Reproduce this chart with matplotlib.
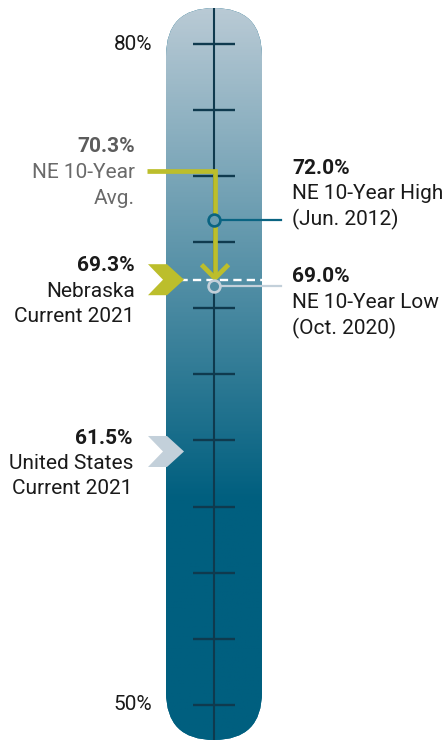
import numpy as np
import matplotlib.pyplot as plt
from matplotlib.patches import FancyBboxPatch, Polygon
from matplotlib.colors import LinearSegmentedColormap

plt.rcParams["font.family"] = ["Roboto", "DejaVu Sans"]

# values in percent
scale_ticks = [50, 53, 56, 59, 62, 65, 68, 71, 74, 77, 80]
scale_labels = ["50%", "80%"]
ne_current = 69.3
us_current = 61.5
ne_avg = 70.3
ne_high = 72.0
ne_low = 69.0

ne_current_text = ["Nebraska", "Current 2021"]
us_current_text = ["United States", "Current 2021"]
ne_avg_text = ["NE 10-Year", "Avg."]
ne_high_text = ["NE 10-Year High", "(Jun. 2012)"]
ne_low_text = ["NE 10-Year Low", "(Oct. 2020)"]

NAVY = "#0f3a4e"
TEAL_DARK = "#005f7f"
TEAL_TOP = "#b9cad5"
OLIVE = "#bcbe2c"
PALE = "#c3d0da"
HIGH_C = "#0a6482"
INK = "#1a1a1a"
GREY = "#6a6a6a"
FS = 15

W, H = 446, 740
Y_LO, Y_HI = 48.4, 82.0
ppu = H / (Y_HI - Y_LO)  # pixels per percentage point


def py(px):
    # figure pixel row -> value axis (layout only)
    return Y_HI - px / ppu


fig = plt.figure(figsize=(W / 100, H / 100), dpi=100)
ax = fig.add_axes([0, 0, 1, 1])
ax.set_xlim(0, W)
ax.set_ylim(Y_LO, Y_HI)
ax.axis("off")

# thermometer tube
cx = 214
tube_left, tube_w = 166, 96
tube_bot, tube_top = Y_LO, py(8)
tube = FancyBboxPatch((tube_left, tube_bot), tube_w, tube_top - tube_bot,
                      boxstyle="round,pad=0,rounding_size=48",
                      mutation_aspect=1 / ppu, facecolor=TEAL_DARK,
                      edgecolor="none", zorder=1)
ax.add_patch(tube)

tube_cmap = LinearSegmentedColormap.from_list("tube", [TEAL_DARK, TEAL_TOP])
grad_lo = py(500)


def tube_t(v):
    return np.clip((v - grad_lo) / (tube_top - grad_lo), 0, 1)


ys = np.linspace(tube_bot, tube_top, 500)
im = ax.imshow(tube_t(ys)[:, None], extent=[tube_left, tube_left + tube_w, tube_bot, tube_top],
               origin="lower", aspect="auto", cmap=tube_cmap, vmin=0, vmax=1, zorder=2)
im.set_clip_path(tube)

ax.plot([cx, cx], [tube_bot, tube_top], color=NAVY, lw=1.5, zorder=3, solid_capstyle="butt")
ax.hlines(scale_ticks, 193, 235, color=NAVY, lw=1.7, zorder=3)

for v, lab in zip([scale_ticks[0], scale_ticks[-1]], scale_labels):
    ax.text(152, v, lab, ha="right", va="center", fontsize=FS, color=INK)

# NE current: dashed line across the tube
ax.plot([tube_left, tube_left + tube_w], [ne_current, ne_current], color="white",
        lw=1.7, ls=(0, (3.5, 2.2)), zorder=4)


def chevron(v, color):
    hh = 15.5 / ppu
    pts = [(148, v + hh), (167, v + hh), (184, v), (167, v - hh), (148, v - hh), (163, v)]
    ax.add_patch(Polygon(pts, closed=True, facecolor=color, edgecolor="none", zorder=5))


chevron(ne_current, OLIVE)
chevron(us_current, PALE)

# average -> current arrow
arrow_y = py(171)
ax.plot([147, cx + 1, cx + 1], [arrow_y, arrow_y, ne_current + 1.5 / ppu], color=OLIVE,
        lw=3.4, solid_joinstyle="miter", solid_capstyle="butt", zorder=6)
head = 13.5
ax.plot([cx + 1 - head, cx + 1, cx + 1 + head],
        [ne_current + (head + 1.5) / ppu, ne_current + 1.5 / ppu, ne_current + (head + 1.5) / ppu],
        color=OLIVE, lw=3.4, solid_joinstyle="miter", solid_capstyle="butt", zorder=6)

# high / low markers
for v, col in [(ne_high, HIGH_C), (ne_low, PALE)]:
    ax.plot([cx + 6, 281], [v, v], color=col, lw=1.6, zorder=6)
    ax.plot(cx, v, "o", ms=8.5, mfc=tube_cmap(tube_t(v)), mec=col, mew=1.9, zorder=7)


def label_block(x, top_px, value, lines, ha, bold_color=INK, color=INK):
    ax.text(x, py(top_px), f"{value:.1f}%", ha=ha, va="center", fontsize=FS,
            fontweight="bold", color=bold_color)
    for i, line in enumerate(lines):
        ax.text(x, py(top_px + 25.5 * (i + 1)), line, ha=ha, va="center",
                fontsize=FS, color=color)


label_block(135, 147, ne_avg, ne_avg_text, "right", bold_color="#5c5c5c", color=GREY)
label_block(135, 266, ne_current, ne_current_text, "right")
label_block(133, 438, us_current, us_current_text, "right")
label_block(292, 168, ne_high, ne_high_text, "left")
label_block(292, 277, ne_low, ne_low_text, "left")

fig.savefig("out.png", dpi=100)
